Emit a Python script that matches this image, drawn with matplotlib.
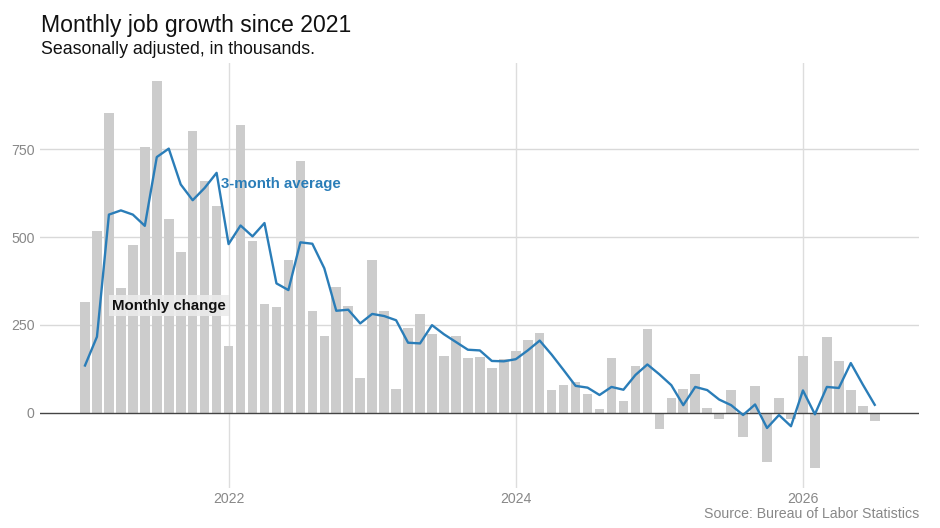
import matplotlib
matplotlib.use("Agg")
import matplotlib.pyplot as plt
import numpy as np

plt.rcParams['font.family'] = ['Liberation Sans', 'DejaVu Sans']

# Monthly change in payrolls, Jan 2021 .. Jul 2026 (thousands)
monthly_change = [314, 516, 854, 354, 478, 756, 944, 552, 457, 802, 659, 588,
                  190, 820, 490, 308, 301, 435, 716, 290, 219, 357, 303, 99,
                  435, 289, 68, 240, 281, 225, 162, 217, 156, 158, 126, 152,
                  176, 206, 228, 63, 78, 87, 53, 10, 155, 33, 134, 237,
                  -48, 42, 68, 109, 14, -19, 64, -69, 77, -140, 41, -17,
                  160, -157, 215, 147, 63, 20, -23]
# 3-month average as drawn
three_month_avg = [134, 216, 564, 576, 564, 532, 728, 752, 650, 605, 640, 683,
                   480, 533, 502, 540, 368, 349, 485, 481, 411, 290, 293, 254,
                   281, 275, 263, 199, 197, 249, 223, 201, 179, 177, 147, 146,
                   152, 177, 205, 165, 121, 76, 71, 50, 73, 65, 107, 137,
                   109, 78, 21, 73, 64, 37, 21, -7, 23, -44, -7, -39,
                   63, -5, 73, 70, 141, 80, 22]
year_ticks = [12, 36, 60]
year_labels = ["2022", "2024", "2026"]
y_ticks = [0, 250, 500, 750]
y_labels = ["0", "250", "500", "750"]

W, H = 940, 528
fig = plt.figure(figsize=(W / 100, H / 100), dpi=100)
ax = fig.add_axes([40 / W, 1 - 488 / H, (919 - 40) / W, (488 - 63) / H])

x = np.arange(len(monthly_change))
ax.bar(x, monthly_change, width=0.8, color='#cccccc', zorder=2)
ax.plot(x, three_month_avg, color='#2a7db8', lw=1.7, zorder=4)

ax.set_xlim(-3.76, 69.7)
ax.set_ylim(-215, 996)

for s in ax.spines.values():
    s.set_visible(False)
ax.set_yticks(y_ticks)
ax.set_yticklabels(y_labels)
ax.set_xticks(year_ticks)
ax.set_xticklabels(year_labels)
ax.tick_params(length=0, labelsize=10.2, labelcolor='#888888')
ax.tick_params(axis='y', pad=4)
ax.tick_params(axis='x', pad=3)
for v in y_ticks[1:]:
    ax.axhline(v, color='#d9d9d9', lw=1, zorder=1)
for v in year_ticks:
    ax.axvline(v, color='#dddddd', lw=1, zorder=1)
ax.axhline(0, color='#444444', lw=1, zorder=3)

ax.text(11.33, 650, "3-month average", color='#2a7db8', fontsize=10.85,
        fontweight='bold', va='center', ha='left', zorder=5)
ax.text(2.25, 305, "Monthly change", color='#111111', fontsize=10.8,
        fontweight='bold', va='center', ha='left', zorder=5,
        bbox=dict(boxstyle='square,pad=0.22', facecolor='#ebebeb',
                  edgecolor='none', alpha=0.9))

fig.text(41 / W, 1 - 32 / H, "Monthly job growth since 2021", fontsize=16.6,
         color='#111111', va='baseline', ha='left')
fig.text(41 / W, 1 - 54.5 / H, "Seasonally adjusted, in thousands.", fontsize=12.8,
         color='#111111', va='baseline', ha='left')
fig.text(919 / W, 1 - 514 / H, "Source: Bureau of Labor Statistics", fontsize=10.2,
         color='#888888', va='center', ha='right')

fig.savefig("out.png", dpi=100)
